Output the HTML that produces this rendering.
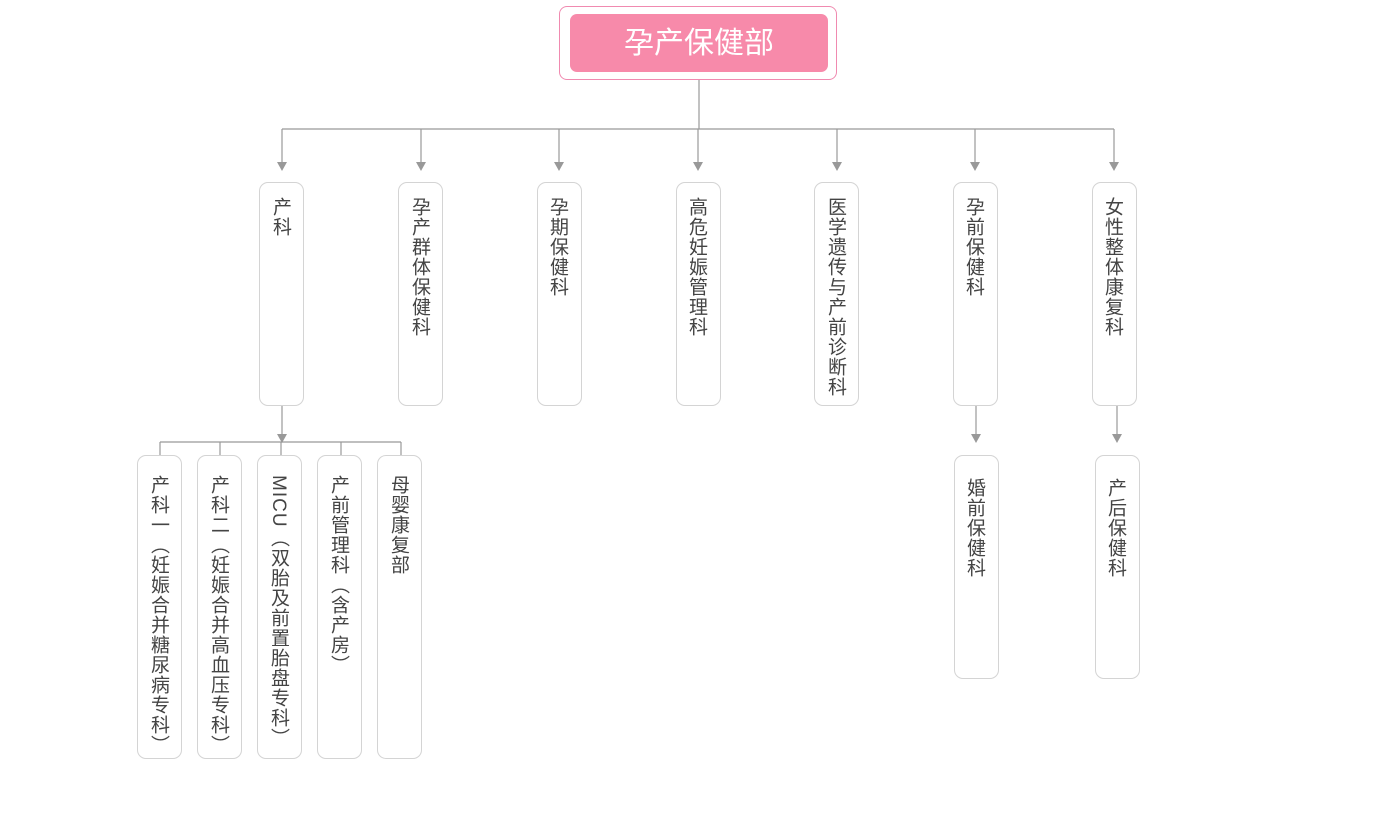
<!DOCTYPE html>
<html><head><meta charset="utf-8"><style>
html,body{margin:0;padding:0;background:#fff;width:1400px;height:830px;overflow:hidden;position:relative;font-family:"Liberation Sans","Noto Sans CJK SC",sans-serif}
.b{position:absolute;box-sizing:border-box;border:1px solid #d4d4d4;border-radius:9px;background:#fff}
.t{position:absolute;writing-mode:vertical-rl;font-size:19px;line-height:20px;color:#444;letter-spacing:1px;white-space:nowrap}
</style></head><body>
<svg width="1400" height="830" style="position:absolute;left:0;top:0">
<g stroke="#999" stroke-width="1.2" fill="none">
<line x1="699" y1="79" x2="699" y2="129"/>
<line x1="282" y1="129" x2="1114" y2="129"/>
<line x1="282" y1="129" x2="282" y2="164"/>
<line x1="421" y1="129" x2="421" y2="164"/>
<line x1="559" y1="129" x2="559" y2="164"/>
<line x1="698" y1="129" x2="698" y2="164"/>
<line x1="837" y1="129" x2="837" y2="164"/>
<line x1="975" y1="129" x2="975" y2="164"/>
<line x1="1114" y1="129" x2="1114" y2="164"/>
<line x1="282" y1="405" x2="282" y2="436"/>
<line x1="160" y1="442" x2="401" y2="442"/>
<line x1="160" y1="442" x2="160" y2="456"/>
<line x1="220" y1="442" x2="220" y2="456"/>
<line x1="281" y1="442" x2="281" y2="456"/>
<line x1="341" y1="442" x2="341" y2="456"/>
<line x1="401" y1="442" x2="401" y2="456"/>
<line x1="976" y1="405" x2="976" y2="436"/>
<line x1="1117" y1="405" x2="1117" y2="436"/>
</g>
<g fill="#999">
<polygon points="277,162 287,162 282,171"/>
<polygon points="416,162 426,162 421,171"/>
<polygon points="554,162 564,162 559,171"/>
<polygon points="693,162 703,162 698,171"/>
<polygon points="832,162 842,162 837,171"/>
<polygon points="970,162 980,162 975,171"/>
<polygon points="1109,162 1119,162 1114,171"/>
<polygon points="277,434 287,434 282,443"/>
<polygon points="971,434 981,434 976,443"/>
<polygon points="1112,434 1122,434 1117,443"/>
</g>
</svg>
<div style="position:absolute;left:559px;top:6px;width:278px;height:74px;box-sizing:border-box;border:1px solid #f08ab0;border-radius:8px;background:#fff"></div>
<div style="position:absolute;left:570px;top:14px;width:258px;height:58px;border-radius:7px;background:#f78aaa;color:#fff;font-size:30px;line-height:60px;text-align:center">孕产保健部</div>

<div class="b" style="left:259px;top:182px;width:45px;height:224px"></div><div class="t" style="left:270px;top:197px">产科</div>
<div class="b" style="left:398px;top:182px;width:45px;height:224px"></div><div class="t" style="left:409px;top:197px">孕产群体保健科</div>
<div class="b" style="left:537px;top:182px;width:45px;height:224px"></div><div class="t" style="left:547px;top:197px">孕期保健科</div>
<div class="b" style="left:676px;top:182px;width:45px;height:224px"></div><div class="t" style="left:686px;top:197px">高危妊娠管理科</div>
<div class="b" style="left:814px;top:182px;width:45px;height:224px"></div><div class="t" style="left:825px;top:197px">医学遗传与产前诊断科</div>
<div class="b" style="left:953px;top:182px;width:45px;height:224px"></div><div class="t" style="left:963px;top:197px">孕前保健科</div>
<div class="b" style="left:1092px;top:182px;width:45px;height:224px"></div><div class="t" style="left:1102px;top:197px">女性整体康复科</div>

<div class="b" style="left:137px;top:455px;width:45px;height:304px"></div><div class="t" style="left:148px;top:475px">产科一（妊娠合并糖尿病专科）</div>
<div class="b" style="left:197px;top:455px;width:45px;height:304px"></div><div class="t" style="left:208px;top:475px">产科二（妊娠合并高血压专科）</div>
<div class="b" style="left:257px;top:455px;width:45px;height:304px"></div><div class="t" style="left:268px;top:475px">MICU（双胎及前置胎盘专科）</div>
<div class="b" style="left:317px;top:455px;width:45px;height:304px"></div><div class="t" style="left:328px;top:475px">产前管理科（含产房）</div>
<div class="b" style="left:377px;top:455px;width:45px;height:304px"></div><div class="t" style="left:388px;top:475px">母婴康复部</div>

<div class="b" style="left:954px;top:455px;width:45px;height:224px"></div><div class="t" style="left:964px;top:478px">婚前保健科</div>
<div class="b" style="left:1095px;top:455px;width:45px;height:224px"></div><div class="t" style="left:1105px;top:478px">产后保健科</div>
</body></html>
